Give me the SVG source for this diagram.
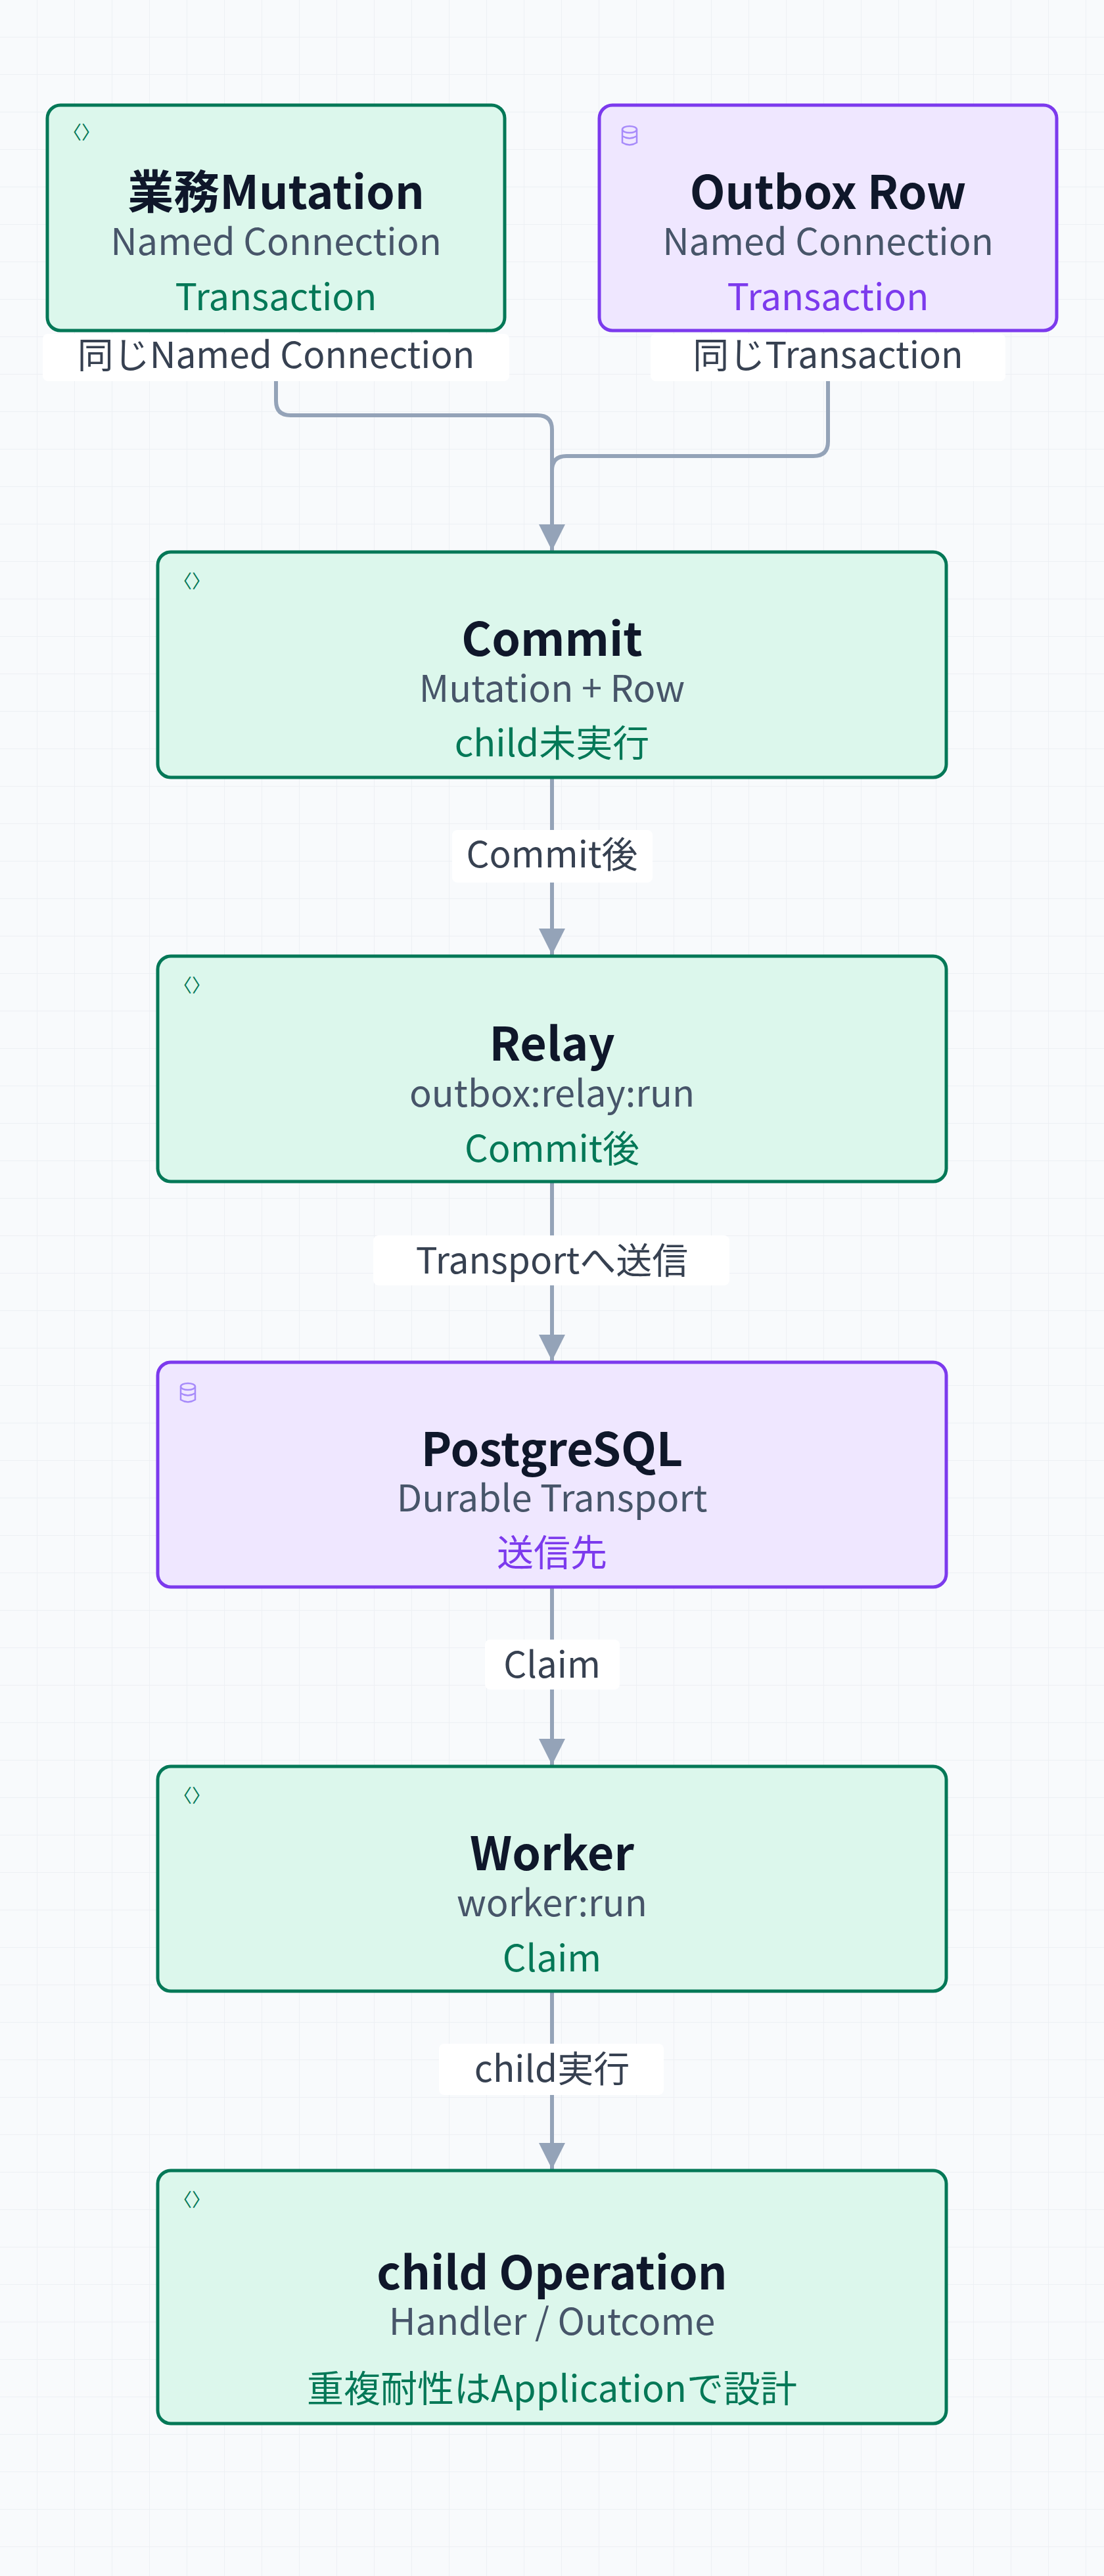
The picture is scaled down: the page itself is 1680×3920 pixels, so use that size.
<svg xmlns="http://www.w3.org/2000/svg" width="1680" height="3920" viewBox="0 0 1680 3920">
<defs>
<pattern id="grid" width="57" height="57" patternUnits="userSpaceOnUse"><path d="M57 0V57H0" fill="none" stroke="#edf0f4" stroke-width="2"/></pattern>
<marker id="arr" viewBox="0 0 40 50" refX="40" refY="25" markerWidth="40" markerHeight="50" markerUnits="userSpaceOnUse" orient="auto"><path d="M0 5L40 25L0 45Z" fill="#94a3b8"/></marker>
</defs>
<style>
text{font-family:"Noto Sans CJK JP","Noto Sans",sans-serif;text-anchor:middle}
.g{fill:#dcf7ec;stroke:#047857;stroke-width:5}
.p{fill:#efe7ff;stroke:#7c3aed;stroke-width:5}
.t{font-size:70px;font-weight:700;fill:#0f172a}
.s{font-size:56px;fill:#475569}
.ag{font-size:56px;fill:#047857}
.ap{font-size:56px;fill:#7c3aed}
.e{fill:none;stroke:#94a3b8;stroke-width:6}
.lb{fill:#ffffff}
.l{font-size:55px;fill:#374151}
.ig{font-size:28px;fill:#047857;text-anchor:start}
</style>
<rect width="1680" height="3920" fill="#f8fafc"/>
<rect width="1680" height="3920" fill="url(#grid)"/>
<g id="connectors">
<path class="e" d="M420 580V610Q420 632 442 632H818Q840 632 840 654V838" marker-end="url(#arr)"/>
<path class="e" d="M1260 580V672Q1260 694 1238 694H862Q840 694 840 716V800"/>
<path class="e" d="M840 1183V1453" marker-end="url(#arr)"/>
<path class="e" d="M840 1798V2071" marker-end="url(#arr)"/>
<path class="e" d="M840 2415V2686" marker-end="url(#arr)"/>
<path class="e" d="M840 3030V3301" marker-end="url(#arr)"/>
<rect class="lb" x="65" y="508" width="710" height="72" rx="8"/>
<text class="l" x="420" y="560">同じNamed Connection</text>
<rect class="lb" x="990" y="508" width="540" height="72" rx="8"/>
<text class="l" x="1260" y="560">同じTransaction</text>
<rect class="lb" x="688" y="1263" width="305" height="80" rx="8"/>
<text class="l" x="840" y="1320">Commit後</text>
<rect class="lb" x="568" y="1880" width="542" height="76" rx="8"/>
<text class="l" x="840" y="1938">Transportへ送信</text>
<rect class="lb" x="738" y="2495" width="205" height="76" rx="8"/>
<text class="l" x="840" y="2553">Claim</text>
<rect class="lb" x="668" y="3110" width="342" height="78" rx="8"/>
<text class="l" x="840" y="3168">child実行</text>
</g>
<g id="mutation">
<rect class="g" x="72" y="160" width="696" height="343" rx="20"/>
<text class="ig" x="96" y="212">〈〉</text>
<text class="t" x="420" y="318">業務Mutation</text>
<text class="s" x="420" y="388">Named Connection</text>
<text class="ag" x="420" y="472">Transaction</text>
</g>
<g id="outbox">
<rect class="p" x="912" y="160" width="696" height="343" rx="20"/>
<g fill="none" stroke="#a78bfa" stroke-width="2.5"><ellipse cx="958" cy="197" rx="11" ry="5"/><path d="M947 197V217Q958 224 969 217V197M947 207Q958 214 969 207"/></g>
<text class="t" x="1260" y="318">Outbox Row</text>
<text class="s" x="1260" y="388">Named Connection</text>
<text class="ap" x="1260" y="472">Transaction</text>
</g>
<g id="commit">
<rect class="g" x="240" y="840" width="1200" height="343" rx="20"/>
<text class="ig" x="264" y="895">〈〉</text>
<text class="t" x="840" y="998">Commit</text>
<text class="s" x="840" y="1068">Mutation + Row</text>
<text class="ag" x="840" y="1151">child未実行</text>
</g>
<g id="relay">
<rect class="g" x="240" y="1455" width="1200" height="343" rx="20"/>
<text class="ig" x="264" y="1510">〈〉</text>
<text class="t" x="840" y="1614">Relay</text>
<text class="s" x="840" y="1684">outbox:relay:run</text>
<text class="ag" x="840" y="1768">Commit後</text>
</g>
<g id="postgres">
<rect class="p" x="240" y="2073" width="1200" height="342" rx="20"/>
<g fill="none" stroke="#a78bfa" stroke-width="2.5"><ellipse cx="286" cy="2110" rx="11" ry="5"/><path d="M275 2110V2130Q286 2137 297 2130V2110M275 2120Q286 2127 297 2120"/></g>
<text class="t" x="840" y="2231">PostgreSQL</text>
<text class="s" x="840" y="2300">Durable Transport</text>
<text class="ap" x="840" y="2383">送信先</text>
</g>
<g id="worker">
<rect class="g" x="240" y="2688" width="1200" height="342" rx="20"/>
<text class="ig" x="264" y="2743">〈〉</text>
<text class="t" x="840" y="2846">Worker</text>
<text class="s" x="840" y="2916">worker:run</text>
<text class="ag" x="840" y="3000">Claim</text>
</g>
<g id="child">
<rect class="g" x="240" y="3303" width="1200" height="385" rx="20"/>
<text class="ig" x="264" y="3358">〈〉</text>
<text class="t" x="840" y="3484">child Operation</text>
<text class="s" x="840" y="3553">Handler / Outcome</text>
<text class="ag" x="840" y="3655">重複耐性はApplicationで設計</text>
</g>
</svg>
